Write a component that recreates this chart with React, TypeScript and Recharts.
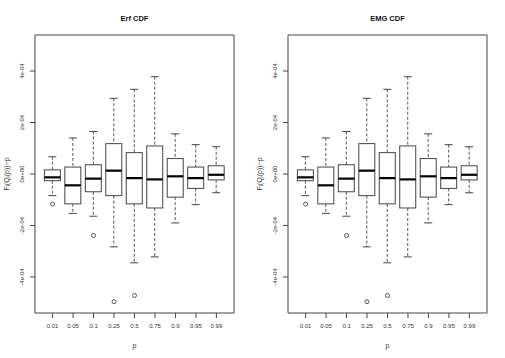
import { ComposedChart, Bar, Scatter, XAxis, YAxis, ReferenceArea } from 'recharts'

// values in units of 1e-04
const categories = ['0.01', '0.05', '0.1', '0.25', '0.5', '0.75', '0.9', '0.95', '0.99']
const whiskerLow = [-0.84, -1.53, -1.64, -2.83, -3.45, -3.22, -1.9, -1.19, -0.73]
const lowerQuartile = [-0.26, -1.16, -0.69, -0.84, -1.16, -1.32, -0.9, -0.56, -0.23]
const medians = [-0.13, -0.44, -0.18, 0.13, -0.16, -0.21, -0.09, -0.16, -0.03]
const upperQuartile = [0.16, 0.27, 0.36, 1.18, 0.83, 1.09, 0.6, 0.27, 0.32]
const whiskerHigh = [0.67, 1.4, 1.65, 2.94, 3.29, 3.78, 1.56, 1.14, 1.06]
const outlierCategory = ['0.01', '0.1', '0.25', '0.5']
const outlierValue = [-1.17, -2.39, -4.96, -4.72]
const yTicks = [-4, -2, 0, 2, 4]
const panelTitles = ['Erf CDF', 'EMG CDF']

const FONT = '"Liberation Sans", Arial, sans-serif'

const boxData = categories.map((c, i) => ({
  pos: i + 1,
  label: c,
  lo: whiskerLow[i],
  q1: lowerQuartile[i],
  med: medians[i],
  q3: upperQuartile[i],
  hi: whiskerHigh[i],
}))

const outlierData = outlierCategory.map((c, i) => ({
  pos: categories.indexOf(c) + 1,
  value: outlierValue[i],
}))

const fmtY = (v: number) => (v === 0 ? '0e+00' : `${v}e-04`)

function BoxShape(props: any) {
  const { x, y, width, height, payload } = props
  const top = Math.min(y, y + height)
  const h = Math.abs(height)
  const py = (v: number) => top + ((payload.hi - v) / (payload.hi - payload.lo)) * h
  const cx = x + width / 2
  const s = width / 4
  return (
    <g>
      <line x1={cx} x2={cx} y1={py(payload.hi)} y2={py(payload.q3)} stroke="#555" strokeDasharray="3 2" />
      <line x1={cx} x2={cx} y1={py(payload.q1)} y2={py(payload.lo)} stroke="#555" strokeDasharray="3 2" />
      <line x1={cx - s} x2={cx + s} y1={py(payload.hi)} y2={py(payload.hi)} stroke="#444" />
      <line x1={cx - s} x2={cx + s} y1={py(payload.lo)} y2={py(payload.lo)} stroke="#444" />
      <rect x={x} y={py(payload.q3)} width={width} height={py(payload.q1) - py(payload.q3)} fill="#fff" stroke="#444" />
      <line x1={x} x2={x + width} y1={py(payload.med)} y2={py(payload.med)} stroke="#000" strokeWidth={2.2} />
    </g>
  )
}

function Outlier(props: any) {
  return <circle cx={props.cx} cy={props.cy} r={2} fill="none" stroke="#444" strokeWidth={0.9} />
}

function YTick(props: any) {
  const { x, y, payload } = props
  return (
    <text x={x - 6} y={y} transform={`rotate(-90 ${x - 6} ${y})`} textAnchor="middle" dominantBaseline="central"
      fontSize={6} fontFamily={FONT} fill="#333">
      {fmtY(payload.value)}
    </text>
  )
}

function XTick(props: any) {
  const { x, y, payload } = props
  return (
    <text x={x} y={y + 6} textAnchor="middle" dominantBaseline="central" fontSize={6} fontFamily={FONT} fill="#333">
      {categories[payload.value - 1]}
    </text>
  )
}

function Panel({ title, left, width, right }: { title: string; left: number; width: number; right: number }) {
  return (
    <div style={{ position: 'absolute', left, top: 0, width, height: 358 }}>
      <ComposedChart width={width} height={358} data={boxData} margin={{ top: 35, right, bottom: 0, left: 5 }}>
        <XAxis dataKey="pos" type="number" domain={[0.14, 9.86]} ticks={[1, 2, 3, 4, 5, 6, 7, 8, 9]}
          allowDataOverflow axisLine={false} tickSize={5} tickLine={{ stroke: '#444' }} height={45}
          tick={<XTick />} interval={0} />
        <YAxis type="number" domain={[-5.4, 5.4]} ticks={yTicks} allowDataOverflow axisLine={false}
          tickSize={5} tickLine={{ stroke: '#444' }} width={30} tick={<YTick />} interval={0} />
        <ReferenceArea x1={0.14} x2={9.86} y1={-5.4} y2={5.4} fill="none" stroke="#444" ifOverflow="visible" />
        <Bar dataKey={(d: any) => [d.lo, d.hi]} barSize={16} shape={<BoxShape />} isAnimationActive={false} />
        <Scatter data={outlierData} dataKey="value" shape={<Outlier />} isAnimationActive={false} />
      </ComposedChart>
      <svg width={width} height={358} style={{ position: 'absolute', left: 0, top: 0, pointerEvents: 'none' }}>
        <text x={134.5} y={18} textAnchor="middle" dominantBaseline="central" fontFamily={FONT} fontWeight="bold"
          fontSize={7.5} fill="#111">{title}</text>
        <text x={134.5} y={345} textAnchor="middle" dominantBaseline="central" fontFamily={FONT} fontSize={7}
          fill="#333">p</text>
        <text x={6} y={174} transform="rotate(-90 6 174)" textAnchor="middle" dominantBaseline="central"
          fontFamily={FONT} fontSize={7} fill="#333">
          F<tspan fontSize={5} dy={1.5}>i</tspan>
          <tspan dy={-1.5}>(Q</tspan>
          <tspan fontSize={5} dy={1.5}>i</tspan>
          <tspan dy={-1.5}>(p))−p</tspan>
        </text>
      </svg>
    </div>
  )
}

export default function App() {
  return (
    <div style={{ position: 'fixed', left: 0, top: 0, width: 505, height: 358, background: '#fff' }}>
      <Panel title={panelTitles[0]} left={0} width={253} right={19} />
      <Panel title={panelTitles[1]} left={253} width={252} right={18} />
    </div>
  )
}
